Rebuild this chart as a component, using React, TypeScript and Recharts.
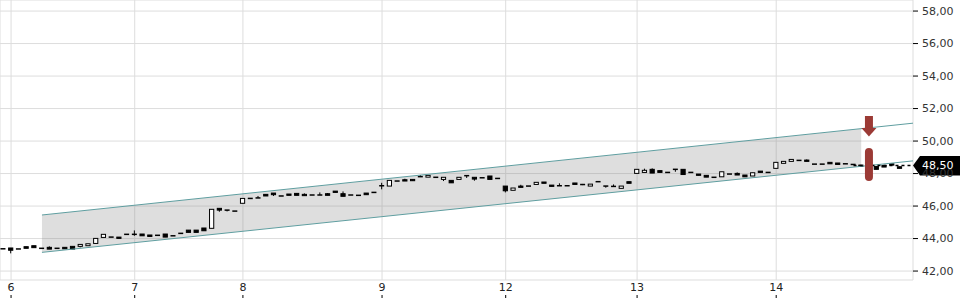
import React from 'react';
import {
  ComposedChart, Bar, Area, Scatter, XAxis, YAxis, CartesianGrid, ReferenceLine,
} from 'recharts';

// Candle values (one per 30-minute period)
const opens = [43.37,43.42,43.36,43.50,43.56,43.40,43.46,43.40,43.46,43.52,
43.52,43.56,43.70,44.07,44.09,44.09,44.26,44.26,44.28,44.22,
44.20,44.28,44.17,44.32,44.52,44.52,44.65,44.63,45.86,45.75,
45.69,46.17,46.47,46.50,46.72,46.80,46.62,46.74,46.78,46.72,
46.68,46.68,46.76,46.92,46.76,46.68,46.66,46.80,46.84,47.25,
47.23,47.54,47.62,47.64,47.81,47.78,47.77,47.64,47.58,47.64,
47.87,47.77,47.74,47.85,47.70,47.23,46.97,47.23,47.23,47.33,
47.48,47.29,47.25,47.25,47.42,47.36,47.23,47.50,47.23,47.21,
47.09,47.50,48.01,48.07,48.26,48.18,48.07,48.26,48.26,48.07,
47.97,47.89,47.77,47.80,47.97,48.01,47.91,47.85,48.15,48.07,
48.32,48.63,48.75,48.81,48.83,48.58,48.58,48.69,48.65,48.60,
48.56,48.52,48.58,48.44,48.50,48.60,48.42];
const highs = [43.37,43.42,43.36,43.50,43.56,43.40,43.52,43.40,43.46,43.52,
43.64,43.68,44.01,44.26,44.09,44.09,44.26,44.50,44.28,44.22,
44.20,44.28,44.17,44.32,44.52,44.52,44.65,45.80,45.86,45.75,
45.69,46.47,46.47,46.62,46.72,46.80,46.62,46.74,46.78,46.78,
46.68,46.84,46.80,46.92,46.90,46.68,46.66,46.80,46.84,47.43,
47.58,47.54,47.68,47.64,47.91,47.89,47.77,47.77,47.58,47.77,
47.87,47.77,47.74,47.85,47.70,47.23,47.11,47.31,47.23,47.46,
47.48,47.29,47.40,47.25,47.42,47.36,47.35,47.50,47.23,47.33,
47.23,47.50,48.26,48.30,48.32,48.18,48.07,48.26,48.26,48.07,
47.97,47.89,47.77,48.11,47.97,48.07,47.91,48.05,48.15,48.07,
48.69,48.75,48.87,48.81,48.87,48.58,48.58,48.69,48.65,48.60,
48.56,48.52,48.58,48.44,48.50,48.60,48.42];
const lows = [43.37,43.09,43.36,43.40,43.44,43.40,43.35,43.40,43.37,43.35,
43.46,43.56,43.70,44.07,44.09,44.01,44.26,44.17,44.17,44.13,
44.20,44.09,44.17,44.32,44.38,44.38,44.48,44.63,45.65,45.67,
45.69,46.17,46.47,46.50,46.62,46.62,46.62,46.66,46.66,46.64,
46.68,46.68,46.66,46.84,46.60,46.68,46.66,46.70,46.84,47.03,
47.23,47.54,47.54,47.56,47.81,47.78,47.77,47.54,47.43,47.64,
47.73,47.56,47.74,47.64,47.70,46.84,46.97,47.15,47.23,47.33,
47.40,47.21,47.25,47.25,47.33,47.29,47.23,47.50,47.13,47.21,
47.09,47.40,48.01,48.07,48.03,48.07,48.07,48.11,47.94,48.07,
47.89,47.78,47.77,47.80,47.97,47.91,47.80,47.85,48.07,48.07,
48.32,48.63,48.75,48.81,48.75,48.58,48.58,48.60,48.56,48.60,
48.56,48.44,48.48,48.26,48.40,48.52,48.32];
const closes = [43.37,43.28,43.36,43.40,43.44,43.40,43.35,43.40,43.37,43.35,
43.64,43.68,44.01,44.26,44.09,44.01,44.26,44.26,44.17,44.13,
44.20,44.09,44.17,44.32,44.38,44.38,44.48,45.80,45.75,45.75,
45.69,46.47,46.47,46.50,46.62,46.70,46.62,46.66,46.66,46.64,
46.68,46.68,46.66,46.84,46.60,46.68,46.66,46.70,46.84,47.25,
47.58,47.54,47.54,47.56,47.81,47.89,47.77,47.77,47.43,47.77,
47.87,47.66,47.74,47.64,47.70,46.94,47.11,47.15,47.23,47.46,
47.40,47.21,47.25,47.25,47.33,47.29,47.35,47.50,47.23,47.21,
47.23,47.40,48.26,48.20,48.03,48.07,48.07,48.26,47.94,48.07,
47.89,47.78,47.77,48.11,47.97,47.91,47.80,48.05,48.07,48.07,
48.69,48.75,48.87,48.81,48.75,48.58,48.58,48.60,48.56,48.60,
48.56,48.44,48.48,48.26,48.40,48.52,48.32];

// X axis: first candle index of each day and its label
const dayTicks = [1, 17, 31, 49, 65, 82, 100];
const dayLabels = ['6', '7', '8', '9', '12', '13', '14'];
const xDomain = [-0.43, 117.7];

// Y axis
const yTicks = [42, 44, 46, 48, 50, 52, 54, 56, 58];
const yDomain = [41.45, 58.68];

// Trend channel (index, lower, upper): start, end of shading, end of lines
const channelIdx = [5, 111, 117.7];
const channelLower = [43.15, 48.45, 48.78];
const channelUpper = [45.45, 50.76, 51.1];

// Last price and signals
const lastPrice = 48.5;
const lastPriceFrom = 110;
const signalIdx = 112;
const sellArrowValue = 50.28;
const signalBarValue = 48.55;

const candleRows = opens.map((o, k) => ({
  i: k, o, h: highs[k], l: lows[k], c: closes[k], range: [lows[k], highs[k]],
}));
const bandRows = channelIdx.slice(0, 2).map((i, k) => ({ i, band: [channelLower[k], channelUpper[k]] }));
const arrowRows = [{ i: signalIdx, v: sellArrowValue }];
const pillRows = [{ i: signalIdx, v: signalBarValue }];

const FONT = 'DejaVu Sans';
const SIGNAL = '#9b3a35';
const CHANNEL = '#5f9ea0';

const Candle = (props: any) => {
  const { x, y, width, height, payload } = props;
  if (x == null || y == null || !payload) return null;
  const { o, h, l, c } = payload;
  const cx = x + width / 2;
  const top = Math.min(y, y + (height || 0));
  const hgt = Math.abs(height || 0);
  if (h - l < 1e-9) {
    return <line x1={cx - 2.5} x2={cx + 2.5} y1={top} y2={top} stroke="#000" strokeWidth={1.5} />;
  }
  const ppu = hgt / (h - l);
  const yOf = (v: number) => top + (h - v) * ppu;
  const bt = yOf(Math.max(o, c));
  const bb = yOf(Math.min(o, c));
  const up = c > o;
  return (
    <g>
      <line x1={cx} x2={cx} y1={top} y2={top + hgt} stroke="#000" strokeWidth={1} />
      {bb - bt < 1.2 ? (
        <line x1={cx - 2.5} x2={cx + 2.5} y1={(bt + bb) / 2} y2={(bt + bb) / 2} stroke="#000" strokeWidth={1.5} />
      ) : (
        <rect x={cx - 2.1} y={bt} width={4.2} height={bb - bt} fill={up ? '#fff' : '#000'} stroke="#000" strokeWidth={1} />
      )}
    </g>
  );
};

const XTick = (props: any) => {
  const { x, y, payload } = props;
  const k = dayTicks.indexOf(payload.value);
  return (
    <g>
      <text x={x} y={y + 11} textAnchor="middle" fontSize={11} fontFamily={FONT} fill="#222">
        {k >= 0 ? dayLabels[k] : ''}
      </text>
      <line x1={x} x2={x} y1={y + 15} y2={y + 18} stroke="#000" strokeWidth={1} />
    </g>
  );
};

const ArrowShape = (props: any) => {
  const { cx, cy } = props;
  return (
    <g fill={SIGNAL}>
      <rect x={cx - 4} y={cy - 20.5} width={8} height={12.5} />
      <polygon points={`${cx - 7.5},${cy - 8.5} ${cx + 7.5},${cy - 8.5} ${cx},${cy}`} />
    </g>
  );
};

const PillShape = (props: any) => {
  const { cx, cy } = props;
  return <rect x={cx - 4} y={cy - 16.5} width={8} height={33} rx={4} ry={4} fill={SIGNAL} />;
};

const PriceLabel = (props: any) => {
  const vb = props.viewBox || {};
  const x = (vb.x || 0) + (vb.width || 0);
  const y = vb.y || 0;
  return (
    <g>
      <polygon points={`${x},${y} ${x + 7},${y - 9.5} ${x + 50},${y - 9.5} ${x + 50},${y + 10} ${x + 7},${y + 10}`} fill="#000" />
      <text x={x + 9} y={y} dy="0.355em" fontSize={11} fontFamily={FONT} fill="#fff">
        {lastPrice.toFixed(2).replace('.', ',')}
      </text>
    </g>
  );
};

export default function App() {
  return (
    <div style={{ position: 'absolute', left: 0, top: 0 }}>
      <ComposedChart width={960} height={300} data={candleRows} margin={{ top: 0, right: 0, bottom: 0, left: 0 }}>
        <CartesianGrid stroke="#dddddd" />
        <XAxis
          dataKey="i"
          type="number"
          domain={xDomain}
          allowDataOverflow
          ticks={dayTicks}
          height={20}
          axisLine={false}
          tickLine={false}
          tickSize={0}
          tickMargin={0}
          tick={<XTick />}
          interval={0}
        />
        <YAxis
          orientation="right"
          type="number"
          domain={yDomain}
          allowDataOverflow
          ticks={yTicks}
          width={47}
          axisLine={false}
          tickLine={{ stroke: '#000' }}
          tickSize={5}
          tickMargin={4}
          interval={0}
          tick={{ fontSize: 11, fontFamily: FONT, fill: '#333' }}
          tickFormatter={(v: number) => v.toFixed(2).replace('.', ',')}
        />
        <Area
          data={bandRows}
          dataKey="band"
          type="linear"
          stroke="none"
          fill="#808080"
          fillOpacity={0.26}
          dot={false}
          activeDot={false}
          isAnimationActive={false}
        />
        <ReferenceLine
          segment={[{ x: channelIdx[0], y: channelUpper[0] }, { x: channelIdx[2], y: channelUpper[2] }]}
          stroke={CHANNEL}
          strokeWidth={1}
          ifOverflow="visible"
        />
        <ReferenceLine
          segment={[{ x: channelIdx[0], y: channelLower[0] }, { x: channelIdx[2], y: channelLower[2] }]}
          stroke={CHANNEL}
          strokeWidth={1}
          ifOverflow="visible"
        />
        <Bar dataKey="range" barSize={5} shape={<Candle />} isAnimationActive={false} />
        <ReferenceLine
          segment={[{ x: lastPriceFrom, y: lastPrice }, { x: xDomain[1], y: lastPrice }]}
          stroke="#000"
          strokeWidth={1.5}
          strokeDasharray="3 3"
          ifOverflow="visible"
          label={<PriceLabel />}
        />
        <Scatter data={arrowRows} dataKey="v" shape={<ArrowShape />} isAnimationActive={false} />
        <Scatter data={pillRows} dataKey="v" shape={<PillShape />} isAnimationActive={false} />
      </ComposedChart>
    </div>
  );
}
